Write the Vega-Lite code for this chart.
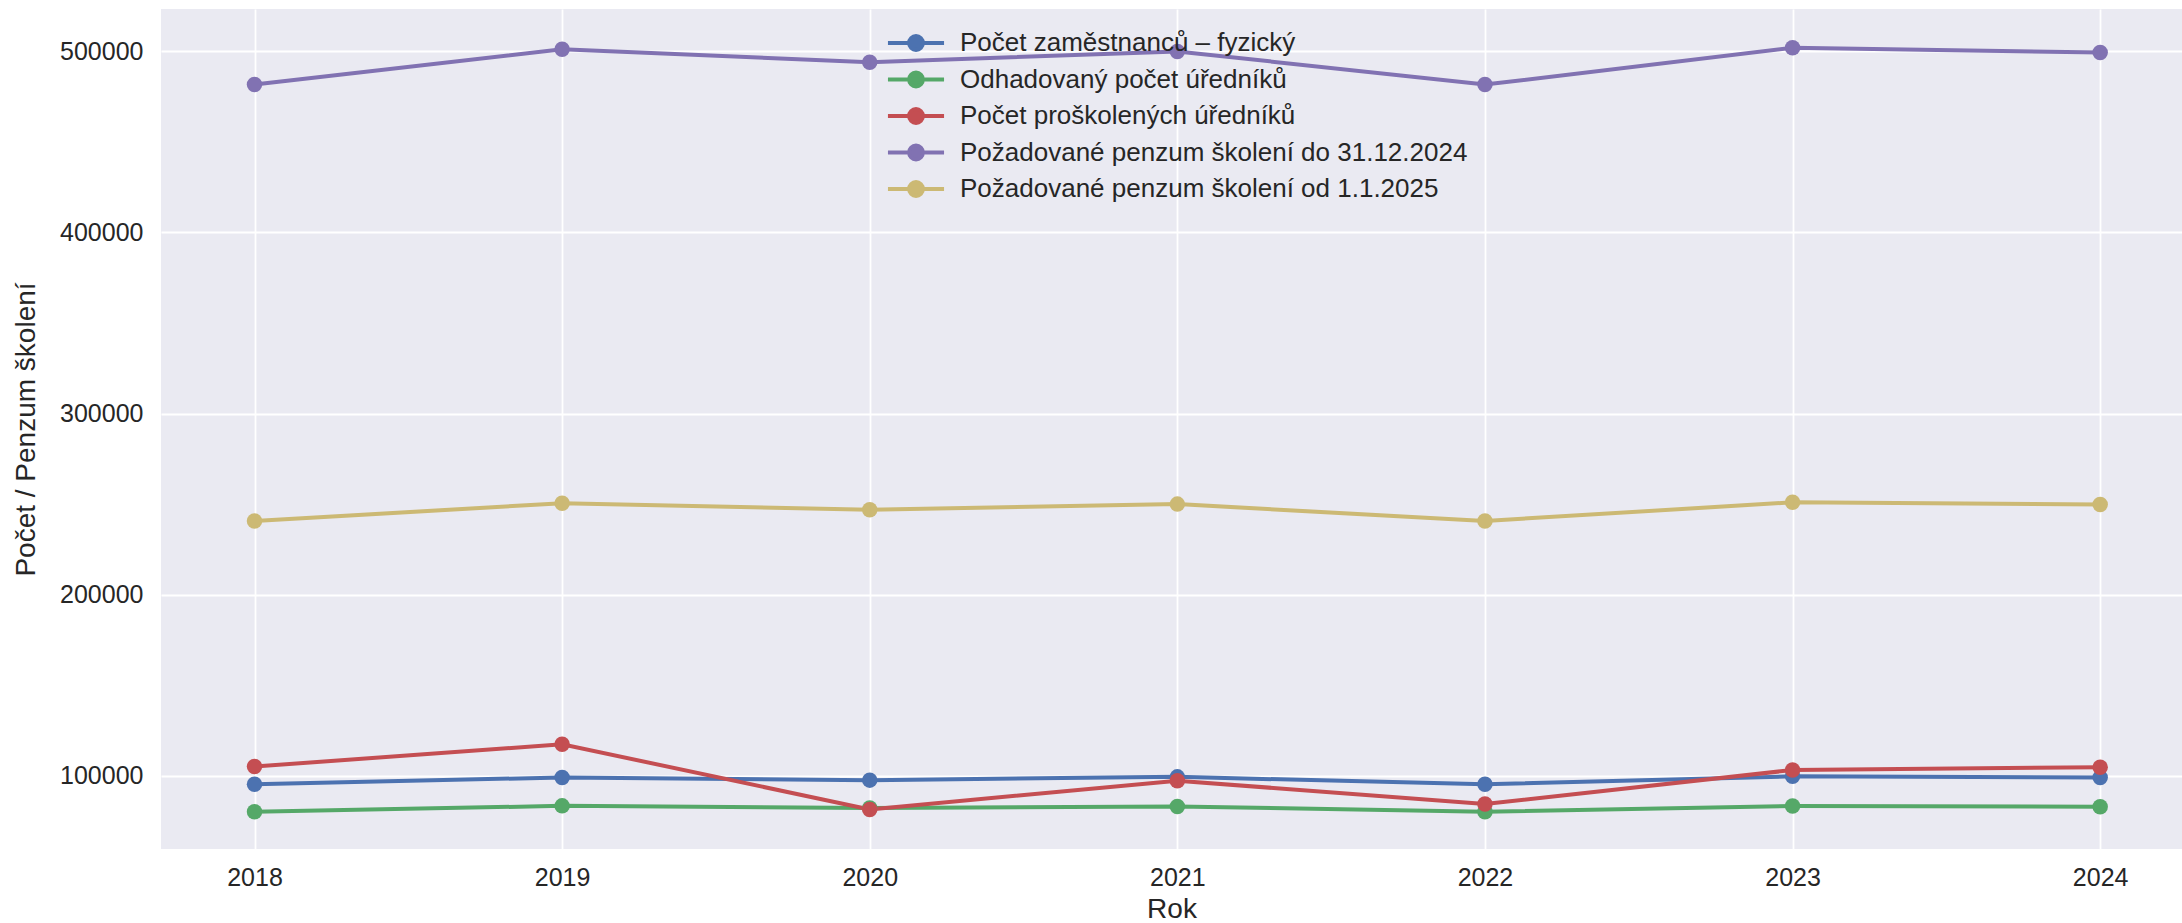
{
  "$schema": "https://vega.github.io/schema/vega-lite/v6.json",
  "autosize": "none",
  "width": 2021,
  "height": 840,
  "padding": {"left": 161, "top": 9, "right": 0, "bottom": 74},
  "background": "white",
  "config": {
    "font": "Liberation Sans",
    "view": {"fill": "#EAEAF2", "stroke": null},
    "axis": {
      "grid": true, "gridColor": "white", "gridWidth": 1.8,
      "domain": false, "ticks": false,
      "labelFont": "Liberation Sans", "labelFontSize": 25, "labelColor": "#262626",
      "titleFont": "Liberation Sans", "titleFontSize": 28, "titleColor": "#262626", "titleFontWeight": "normal"
    },
    "legend": {
      "labelFont": "Liberation Sans", "labelFontSize": 26, "labelColor": "#262626", "labelLimit": 800
    }
  },
  "data": {
    "values": [
      {"rok": 2018, "serie": "Počet zaměstnanců – fyzický", "hodnota": 95400},
      {"rok": 2019, "serie": "Počet zaměstnanců – fyzický", "hodnota": 99200},
      {"rok": 2020, "serie": "Počet zaměstnanců – fyzický", "hodnota": 97700},
      {"rok": 2021, "serie": "Počet zaměstnanců – fyzický", "hodnota": 99500},
      {"rok": 2022, "serie": "Počet zaměstnanců – fyzický", "hodnota": 95400},
      {"rok": 2023, "serie": "Počet zaměstnanců – fyzický", "hodnota": 99800},
      {"rok": 2024, "serie": "Počet zaměstnanců – fyzický", "hodnota": 99200},
      {"rok": 2018, "serie": "Odhadovaný počet úředníků", "hodnota": 80300},
      {"rok": 2019, "serie": "Odhadovaný počet úředníků", "hodnota": 83500},
      {"rok": 2020, "serie": "Odhadovaný počet úředníků", "hodnota": 82300},
      {"rok": 2021, "serie": "Odhadovaný počet úředníků", "hodnota": 83200},
      {"rok": 2022, "serie": "Odhadovaný počet úředníků", "hodnota": 80300},
      {"rok": 2023, "serie": "Odhadovaný počet úředníků", "hodnota": 83400},
      {"rok": 2024, "serie": "Odhadovaný počet úředníků", "hodnota": 83000},
      {"rok": 2018, "serie": "Počet proškolených úředníků", "hodnota": 105200},
      {"rok": 2019, "serie": "Počet proškolených úředníků", "hodnota": 117500},
      {"rok": 2020, "serie": "Počet proškolených úředníků", "hodnota": 81500},
      {"rok": 2021, "serie": "Počet proškolených úředníků", "hodnota": 97400},
      {"rok": 2022, "serie": "Počet proškolených úředníků", "hodnota": 84500},
      {"rok": 2023, "serie": "Počet proškolených úředníků", "hodnota": 103300},
      {"rok": 2024, "serie": "Počet proškolených úředníků", "hodnota": 104800},
      {"rok": 2018, "serie": "Požadované penzum školení do 31.12.2024", "hodnota": 481500},
      {"rok": 2019, "serie": "Požadované penzum školení do 31.12.2024", "hodnota": 501000},
      {"rok": 2020, "serie": "Požadované penzum školení do 31.12.2024", "hodnota": 493800},
      {"rok": 2021, "serie": "Požadované penzum školení do 31.12.2024", "hodnota": 499800},
      {"rok": 2022, "serie": "Požadované penzum školení do 31.12.2024", "hodnota": 481500},
      {"rok": 2023, "serie": "Požadované penzum školení do 31.12.2024", "hodnota": 501800},
      {"rok": 2024, "serie": "Požadované penzum školení do 31.12.2024", "hodnota": 499200},
      {"rok": 2018, "serie": "Požadované penzum školení od 1.1.2025", "hodnota": 240700},
      {"rok": 2019, "serie": "Požadované penzum školení od 1.1.2025", "hodnota": 250500},
      {"rok": 2020, "serie": "Požadované penzum školení od 1.1.2025", "hodnota": 246900},
      {"rok": 2021, "serie": "Požadované penzum školení od 1.1.2025", "hodnota": 250000},
      {"rok": 2022, "serie": "Požadované penzum školení od 1.1.2025", "hodnota": 240700},
      {"rok": 2023, "serie": "Požadované penzum školení od 1.1.2025", "hodnota": 251000},
      {"rok": 2024, "serie": "Požadované penzum školení od 1.1.2025", "hodnota": 249800}
    ]
  },
  "mark": {"type": "line", "strokeWidth": 4, "point": {"filled": true, "size": 240, "opacity": 1}},
  "encoding": {
    "x": {
      "field": "rok", "type": "quantitative",
      "scale": {"domain": [2017.696, 2024.266], "nice": false, "zero": false},
      "axis": {"values": [2018, 2019, 2020, 2021, 2022, 2023, 2024], "format": "d", "title": "Rok", "labelPadding": 16, "titlePadding": 5, "labelFlush": false}
    },
    "y": {
      "field": "hodnota", "type": "quantitative",
      "scale": {"domain": [59700, 523200], "nice": false, "zero": false},
      "axis": {"values": [100000, 200000, 300000, 400000, 500000], "format": "d", "title": "Počet / Penzum školení", "labelPadding": 18, "titlePadding": 19}
    },
    "color": {
      "field": "serie", "type": "nominal",
      "scale": {
        "domain": ["Počet zaměstnanců – fyzický", "Odhadovaný počet úředníků", "Počet proškolených úředníků", "Požadované penzum školení do 31.12.2024", "Požadované penzum školení od 1.1.2025"],
        "range": ["#4C72B0", "#55A868", "#C44E52", "#8172B2", "#CCB974"]
      },
      "legend": {
        "title": null,
        "orient": "none",
        "legendX": 738,
        "legendY": 17,
        "padding": 0,
        "rowPadding": 4.5,
        "labelOffset": 27,
        "symbolType": "M-1.87,0L1.87,0M0.46,0A0.46,0.46,0,1,1,-0.46,0A0.46,0.46,0,1,1,0.46,0Z",
        "symbolSize": 900,
        "symbolStrokeWidth": 4,
        "encode": {
          "symbols": {
            "update": {
              "fill": {"scale": "color", "field": "value"},
              "stroke": {"scale": "color", "field": "value"},
              "opacity": {"value": 1}
            }
          }
        }
      }
    }
  }
}
